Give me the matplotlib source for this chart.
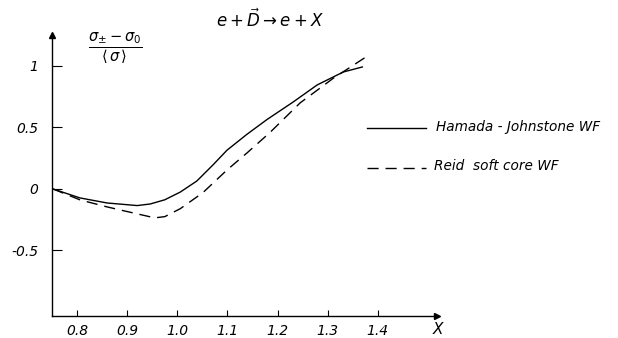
import matplotlib
matplotlib.use("Agg")
import matplotlib.pyplot as plt

# Data
hj_x = [0.752, 0.806, 0.860, 0.920, 0.946, 0.975, 1.006, 1.039, 1.071, 1.099, 1.139, 1.179, 1.231, 1.279, 1.331, 1.369]
hj_y = [0.000, -0.073, -0.114, -0.135, -0.122, -0.088, -0.025, 0.065, 0.195, 0.315, 0.445, 0.565, 0.707, 0.846, 0.951, 0.992]
reid_x = [0.752, 0.806, 0.860, 0.912, 0.955, 0.975, 1.006, 1.051, 1.099, 1.139, 1.185, 1.245, 1.311, 1.375]
reid_y = [0.000, -0.089, -0.146, -0.195, -0.235, -0.225, -0.160, -0.030, 0.154, 0.293, 0.460, 0.700, 0.900, 1.070]

xticks = [0.8, 0.9, 1.0, 1.1, 1.2, 1.3, 1.4]
xticklabels = ["0.8", "0.9", "1.0", "1.1", "1.2", "1.3", "1.4"]
yticks = [1.0, 0.5, 0.0, -0.5]
yticklabels = ["1", "0.5", "0", "-0.5"]
labels = ["Hamada - Johnstone WF", "Reid  soft core WF"]

W, H = 618, 338
fig = plt.figure(figsize=(W / 100, H / 100), dpi=100)
left, right, bottom, top = 52, 437, 316, 35
ax = fig.add_axes([left / W, (H - bottom) / H, (right - left) / W, (bottom - top) / H])
ax.set_xlim(0.75, 1.518)
ax.set_ylim(-1.033, 1.252)

for s in ["top", "right"]:
    ax.spines[s].set_visible(False)
for s in ["left", "bottom"]:
    ax.spines[s].set_linewidth(1.0)

ax.plot(hj_x, hj_y, color="black", lw=1.0, solid_joinstyle="round")
ax.plot(reid_x, reid_y, color="black", lw=1.0, dashes=(8, 5))

# axis arrows
ax.plot(1, 0, marker=">", color="black", markersize=5, transform=ax.transAxes, clip_on=False)
ax.plot(0, 1, marker="^", color="black", markersize=5, transform=ax.transAxes, clip_on=False)

ax.set_xticks(xticks)
ax.set_xticklabels(xticklabels, fontstyle="italic", fontsize=10)
ax.set_yticks(yticks)
ax.set_yticklabels(yticklabels, fontstyle="italic", fontsize=10)
ax.tick_params(axis="x", direction="in", length=4, width=0.8, pad=6)
ax.tick_params(axis="y", direction="in", length=7, width=0.8, pad=10)

# y-axis label (fraction) and title reaction
fig.text(115 / W, 1 - 48 / H, r"$\frac{\sigma_{\pm}-\sigma_{0}}{\langle\,\sigma\,\rangle}$",
         ha="center", va="center", fontsize=15)
fig.text(270 / W, 1 - 20 / H, r"$e+\vec{D}\rightarrow e+X$", ha="center", va="center", fontsize=12)
fig.text(438 / W, 1 - 330 / H, "X", ha="center", va="center", fontsize=11, fontstyle="italic")

# legend drawn by hand
lx0, lx1 = 367 / W, 426 / W
fig.add_artist(plt.Line2D([lx0, lx1], [1 - 128 / H, 1 - 128 / H], color="black", lw=1.0, transform=fig.transFigure))
fig.add_artist(plt.Line2D([lx0, lx1], [1 - 168 / H, 1 - 168 / H], color="black", lw=1.0, dashes=(8, 5), transform=fig.transFigure))
fig.text(436 / W, 1 - 127 / H, labels[0], ha="left", va="center", fontsize=9.8, fontstyle="italic")
fig.text(434 / W, 1 - 166 / H, labels[1], ha="left", va="center", fontsize=9.8, fontstyle="italic")

fig.savefig("out.png", dpi=100)
